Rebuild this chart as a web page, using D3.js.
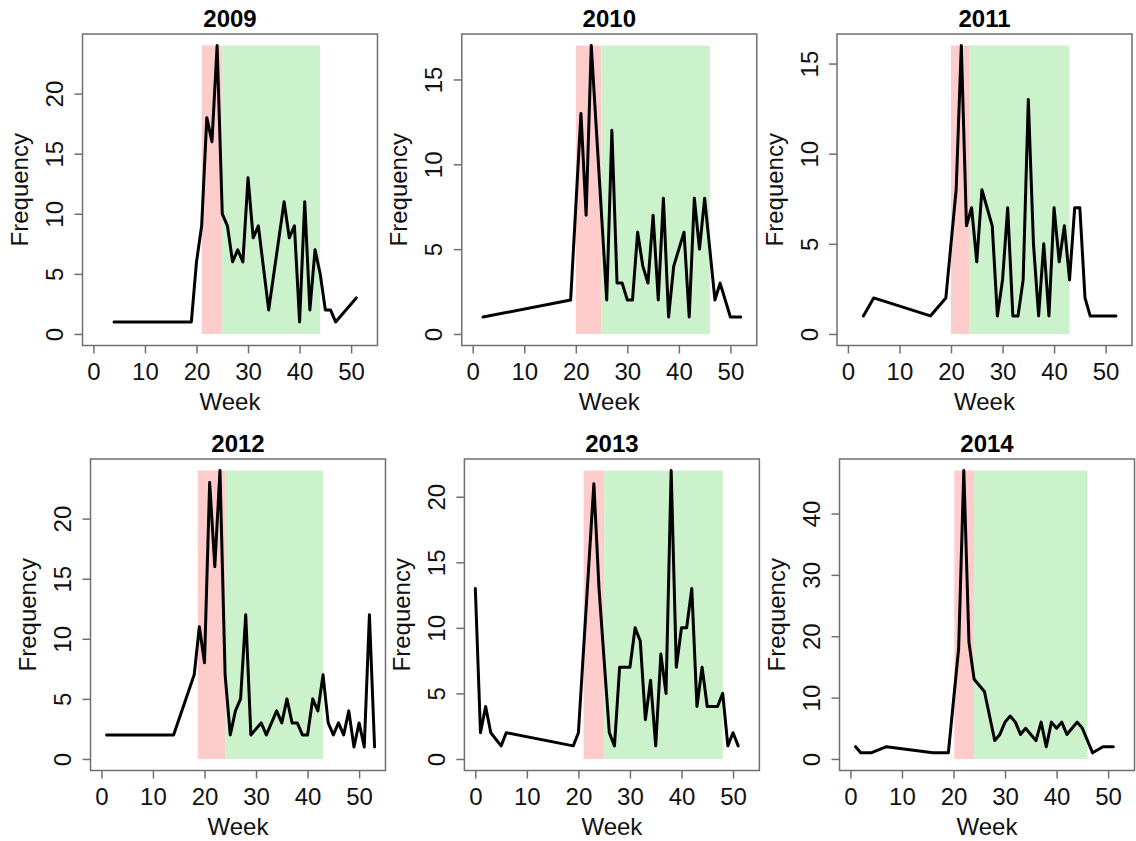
<!DOCTYPE html>
<html>
<head>
<meta charset="utf-8">
<script src="https://cdn.jsdelivr.net/npm/d3@7"></script>
<style>
  html, body { margin: 0; padding: 0; background: #fff; }
  svg { display: block; font-family: "Liberation Sans", Arial, sans-serif; }
</style>
</head>
<body>
<svg id="chart" width="1136" height="841"></svg>
<script>
// ---- data ----
const years = ["2009", "2010", "2011", "2012", "2013", "2014"];

const weeks2009 = [4,19,20,21,22,23,24,25,26,27,28,29,30,31,32,34,37,38,39,40,41,42,43,44,45,46,47,51];
const freq2009  = [1,1,6,9,18,16,24,10,9,6,7,6,13,8,9,2,11,8,9,1,11,2,7,5,2,2,1,3];

const weeks2010 = [2,19,21,22,23,26,27,28,29,30,31,32,33,34,35,36,37,38,39,41,42,43,44,45,47,48,50,52];
const freq2010  = [1,2,13,7,17,2,12,3,3,2,2,6,4,3,7,2,8,1,4,6,1,8,5,8,2,3,1,1];

const weeks2011 = [3,5,16,19,21,22,23,24,25,26,28,29,30,31,32,33,34,35,36,37,38,39,40,41,42,43,44,45,46,47,52];
const freq2011  = [1,2,1,2,8,16,6,7,4,8,6,1,3,7,1,1,3,13,5,1,5,1,7,4,6,3,7,7,2,1,1];

const weeks2012 = [1,14,18,19,20,21,22,23,24,25,26,27,28,29,31,32,34,35,36,37,38,39,40,41,42,43,44,45,46,47,48,49,50,51,52,53];
const freq2012  = [2,2,7,11,8,23,16,24,7,2,4,5,12,2,3,2,4,3,5,3,3,2,2,5,4,7,3,2,3,2,4,1,3,1,12,1];

const weeks2013 = [0,1,2,3,5,6,19,20,23,24,26,27,28,30,31,32,33,34,35,36,37,38,39,40,41,42,43,44,45,47,48,49,50,51];
const freq2013  = [13,2,4,2,1,2,1,2,21,13,2,1,7,7,10,9,3,6,1,8,5,22,7,10,10,13,4,7,4,4,5,1,2,1];

const weeks2014 = [1,2,4,7,16,19,21,22,23,24,26,28,29,30,31,32,33,34,35,36,37,38,39,40,41,42,43,44,45,47,49,51];
const freq2014  = [2,1,1,2,1,1,18,47,19,13,11,3,4,6,7,6,4,5,4,3,6,2,6,5,6,4,5,6,5,1,2,2];

// shaded periods: peak (red) start/end, post-peak (green) end
const peakStart = [21, 20, 20, 18.7, 21, 20.15];
const peakEnd   = [25, 25, 23.5, 24, 25, 24];
const postEnd   = [44, 46, 43, 43, 48, 46];

const xTicks = [0, 10, 20, 30, 40, 50];
const yTicks2009 = [0, 5, 10, 15, 20];
const yTicks2010 = [0, 5, 10, 15];
const yTicks2011 = [0, 5, 10, 15];
const yTicks2012 = [0, 5, 10, 15, 20];
const yTicks2013 = [0, 5, 10, 15, 20];
const yTicks2014 = [0, 10, 20, 30, 40];

const xLabel = "Week";
const yLabel = "Frequency";

const weeksAll = [weeks2009, weeks2010, weeks2011, weeks2012, weeks2013, weeks2014];
const freqAll  = [freq2009, freq2010, freq2011, freq2012, freq2013, freq2014];
const yTicksAll = [yTicks2009, yTicks2010, yTicks2011, yTicks2012, yTicks2013, yTicks2014];

// ---- layout ----
const boxW = 295;
const lefts = [82.5, 461.8, 837, 90.5, 464.4, 839.5];
const tops  = [34, 34, 34, 459, 459, 459];
const boxH = 311.5;
const FS = 24;
const gridGray = "#6f6f6f";

const svg = d3.select("#chart");
svg.append("rect").attr("width", 1136).attr("height", 841).attr("fill", "#fff");

years.forEach((yr, i) => {
  const weeks = weeksAll[i], freq = freqAll[i];
  const data = weeks.map((w, k) => ({w, f: freq[k]}));
  const ymax = d3.max(freq);
  const x0 = lefts[i], y0 = tops[i];
  const g = svg.append("g").attr("transform", `translate(${x0},${y0})`);

  const x = d3.scaleLinear().domain([0 - 0.04 * 53, 53 + 0.04 * 53]).range([0, boxW]);
  const y = d3.scaleLinear().domain([-0.04 * ymax, ymax * 1.04]).range([boxH, 0]);

  // shaded rectangles
  g.append("rect")
    .attr("x", x(peakStart[i])).attr("width", x(peakEnd[i]) - x(peakStart[i]))
    .attr("y", y(ymax)).attr("height", y(0) - y(ymax))
    .attr("fill", "#ffcccc");
  g.append("rect")
    .attr("x", x(peakEnd[i])).attr("width", x(postEnd[i]) - x(peakEnd[i]))
    .attr("y", y(ymax)).attr("height", y(0) - y(ymax))
    .attr("fill", "#ccf2cc");

  // line
  g.append("path")
    .datum(data)
    .attr("fill", "none")
    .attr("stroke", "#000")
    .attr("stroke-width", 3)
    .attr("stroke-linejoin", "round")
    .attr("stroke-linecap", "round")
    .attr("d", d3.line().x(d => x(d.w)).y(d => y(d.f)));

  // box
  g.append("rect")
    .attr("x", 0).attr("y", 0).attr("width", boxW).attr("height", boxH)
    .attr("fill", "none").attr("stroke", gridGray).attr("stroke-width", 1.5);

  // x axis
  const xa = g.append("g").attr("transform", `translate(0,${boxH})`)
    .call(d3.axisBottom(x).tickValues(xTicks).tickSize(8).tickPadding(9).tickFormat(d3.format("d")));
  xa.select(".domain").remove();
  xa.selectAll("line").attr("stroke", gridGray).attr("stroke-width", 1.5);
  xa.selectAll("text").attr("font-size", FS).attr("fill", "#111")
    .attr("font-family", "'Liberation Sans', Arial, sans-serif");

  // y axis
  const ya = g.append("g")
    .call(d3.axisLeft(y).tickValues(yTicksAll[i]).tickSize(8).tickFormat(d3.format("d")));
  ya.select(".domain").remove();
  ya.selectAll("line").attr("stroke", gridGray).attr("stroke-width", 1.5);
  ya.selectAll("text")
    .attr("font-size", FS).attr("fill", "#111")
    .attr("font-family", "'Liberation Sans', Arial, sans-serif")
    .attr("x", null).attr("dy", null)
    .attr("text-anchor", "middle")
    .attr("transform", "translate(-19.5,0) rotate(-90)");

  // title
  g.append("text")
    .attr("x", boxW / 2).attr("y", -7)
    .attr("text-anchor", "middle")
    .attr("font-size", FS).attr("font-weight", "bold").attr("fill", "#000")
    .text(yr);

  // axis labels
  g.append("text")
    .attr("x", boxW / 2).attr("y", boxH + 64.5)
    .attr("text-anchor", "middle")
    .attr("font-size", FS).attr("fill", "#111")
    .text(xLabel);
  g.append("text")
    .attr("transform", `translate(-54.5,${boxH / 2}) rotate(-90)`)
    .attr("text-anchor", "middle")
    .attr("font-size", FS).attr("fill", "#111")
    .text(yLabel);
});
</script>
</body>
</html>
